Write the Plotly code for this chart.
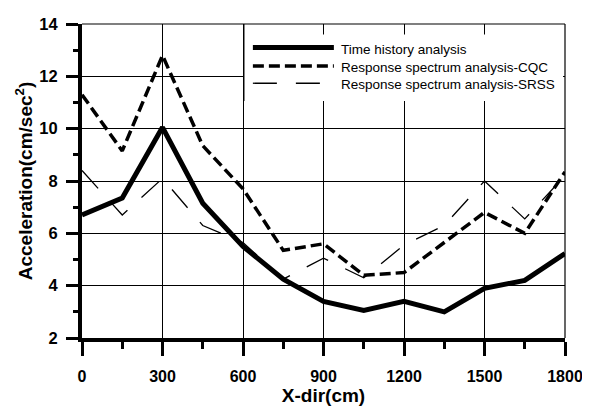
import plotly.graph_objects as go

# ---- data ----
x_cm = [0, 150, 300, 450, 600, 750, 900, 1050, 1200, 1350, 1500, 1650, 1800]
time_history = [6.7, 7.35, 10.05, 7.15, 5.5, 4.25, 3.4, 3.05, 3.4, 3.0, 3.9, 4.2, 5.23]
rs_cqc = [11.3, 9.15, 12.8, 9.35, 7.7, 5.35, 5.6, 4.4, 4.5, 5.65, 6.8, 6.0, 8.35]
rs_srss = [8.4, 6.7, 8.1, 6.3, 5.65, 4.25, 5.05, 4.3, 5.55, 6.3, 8.0, 6.55, 8.2]

series_names = ["Time history analysis",
                "Response spectrum analysis-CQC",
                "Response spectrum analysis-SRSS"]
x_ticks = [0, 300, 600, 900, 1200, 1500, 1800]
y_ticks = [2, 4, 6, 8, 10, 12, 14]

# ---- layout geometry (page body has an 8px margin) ----
OFF = 8
W, H = 590 - OFF, 410 - OFF
ML, MR, MT, MB = 82 - OFF, 19, 15 - OFF, 69
PW, PH = W - ML - MR, H - MT - MB

def px(xp):
    return (xp - OFF - ML) / PW

def py(yp):
    return (OFF + H - MB - yp) / PH

styles = [dict(width=5, dash="solid"),
          dict(width=3.5, dash="11px,5px"),
          dict(width=1.3, dash="24px,19px")]

fig = go.Figure()
for name, vals, st in zip(series_names, [time_history, rs_cqc, rs_srss], styles):
    fig.add_trace(go.Scatter(x=x_cm, y=vals, mode="lines", name=name,
                             line=dict(color="black", width=st["width"], dash=st["dash"]),
                             showlegend=False))

FONT = "Liberation Sans, Arial, sans-serif"
fig.update_layout(
    width=W, height=H,
    margin=dict(l=ML, r=MR, t=MT, b=MB, pad=0),
    paper_bgcolor="white", plot_bgcolor="white",
    font=dict(family=FONT, color="black"),
    xaxis=dict(range=[0, 1800], tickvals=x_ticks,
               ticktext=["<b>%d</b>" % v for v in x_ticks],
               showline=True, linewidth=4, linecolor="black",
               ticks="outside", ticklen=14, tickwidth=3, tickcolor="black",
               ticklabelstandoff=7, ticklabeloverflow="allow",
               minor=dict(dtick=150, ticks="outside", ticklen=7, tickwidth=3,
                          tickcolor="black", showgrid=False),
               showgrid=True, gridcolor="black", gridwidth=1.2, zeroline=False,
               tickfont=dict(family=FONT, size=16, color="black"),
               title=dict(text="<b>X-dir(cm)</b>", font=dict(family=FONT, size=19), standoff=4)),
    yaxis=dict(range=[2, 14], tickvals=y_ticks,
               ticktext=["<b>%d</b>" % v for v in y_ticks],
               showline=True, linewidth=4, linecolor="black",
               ticks="outside", ticklen=12, tickwidth=3, tickcolor="black",
               ticklabelstandoff=5, ticklabeloverflow="allow",
               minor=dict(dtick=1, ticks="outside", ticklen=5, tickwidth=3,
                          tickcolor="black", showgrid=False),
               showgrid=True, gridcolor="black", gridwidth=1.2, zeroline=False,
               tickfont=dict(family=FONT, size=16.5, color="black"),
               title=dict(text="<b>Acceleration(cm/sec<sup>2</sup>)</b>",
                          font=dict(family=FONT, size=19), standoff=3)),
)

shapes = []
# thin top and right border
shapes.append(dict(type="line", xref="paper", yref="paper", x0=0, x1=1, y0=1, y1=1,
                   line=dict(color="black", width=1.2)))
shapes.append(dict(type="line", xref="paper", yref="paper", x0=1, x1=1, y0=0, y1=1,
                   line=dict(color="black", width=1.2)))
# legend box
shapes.append(dict(type="rect", xref="paper", yref="paper",
                   x0=px(246), x1=px(569), y0=py(95), y1=py(26),
                   fillcolor="white", line=dict(width=0), layer="above"))
shapes.append(dict(type="line", xref="paper", yref="paper",
                   x0=px(246), x1=px(246), y0=py(95), y1=1,
                   line=dict(color="black", width=1)))
row_y = [39.5, 58.5, 76.5]
annotations = []
for name, st, ry in zip(series_names, styles, row_y):
    shapes.append(dict(type="line", xref="paper", yref="paper",
                       x0=px(255), x1=px(337), y0=py(ry), y1=py(ry),
                       line=dict(color="black", width=st["width"], dash=st["dash"]),
                       layer="above"))
    annotations.append(dict(x=px(342), y=py(ry + 1.5), xref="paper", yref="paper",
                            text=name, showarrow=False, xanchor="left", yanchor="middle",
                            font=dict(size=13.5, color="black", family=FONT)))
fig.update_layout(shapes=shapes, annotations=annotations)

fig.write_html("out.html")
